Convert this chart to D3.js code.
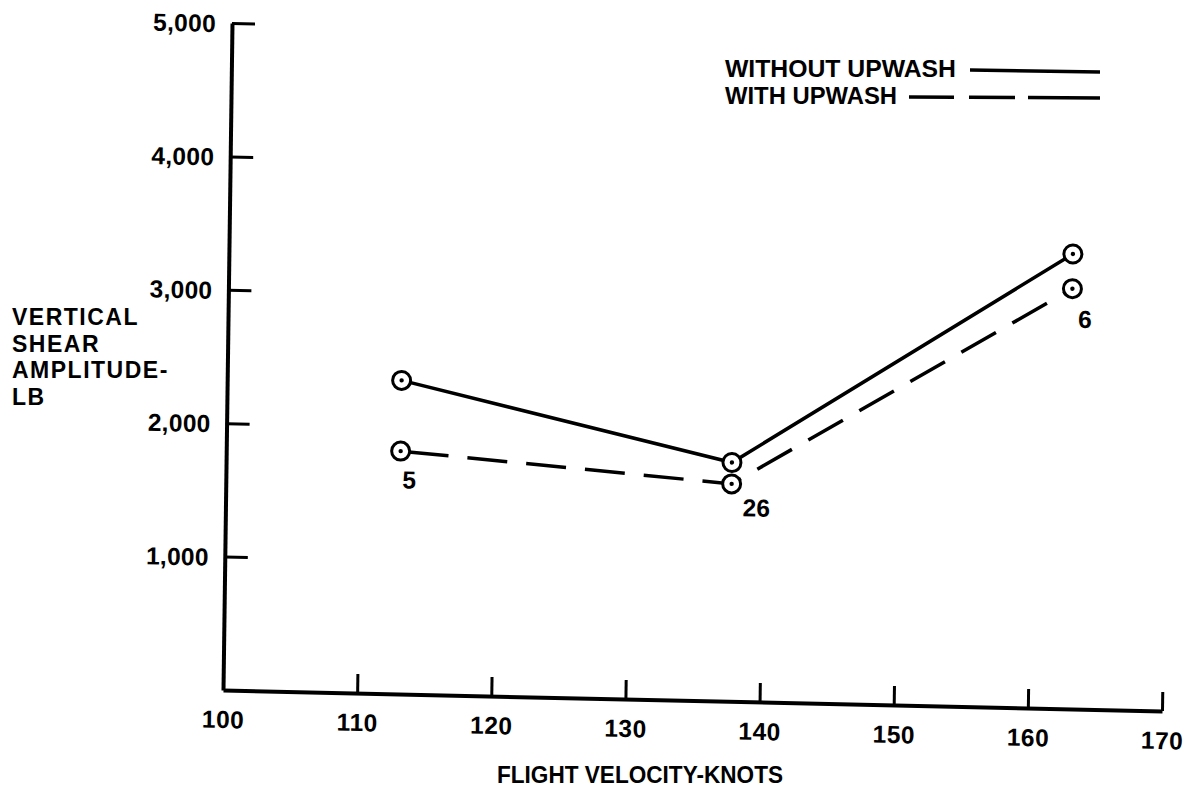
<!DOCTYPE html>
<html>
<head>
<meta charset="utf-8">
<script src="https://cdn.jsdelivr.net/npm/d3@7"></script>
<style>
  html, body { margin: 0; padding: 0; background: #fff; }
  svg { display: block; }
  text { font-family: "Liberation Sans", Arial, Helvetica, sans-serif; font-weight: bold; fill: #000; }
</style>
</head>
<body>
<svg id="chart" width="1184" height="798"></svg>
<script>
// ---- data ----
const velocities = [113, 137.7, 162.9];               // knots
const withoutUpwash = [2350, 1790, 3410];             // lb
const withUpwash = [1820, 1630, 3150];                // lb
const pointLabels = ["5", "26", "6"];                 // labels next to "with upwash" points
const xTicks = [100, 110, 120, 130, 140, 150, 160, 170];
const yTicks = [1000, 2000, 3000, 4000, 5000];
const seriesNames = ["WITHOUT UPWASH", "WITH UPWASH"];
const xTitle = "FLIGHT VELOCITY-KNOTS";
const yTitleLines = ["VERTICAL", "SHEAR", "AMPLITUDE-", "LB"];

// ---- layout ----
const svg = d3.select("#chart");
svg.append("rect").attr("width", 1184).attr("height", 798).attr("fill", "#fff");

// scanned page is slightly skewed: emulate with an affine transform
const g = svg.append("g").attr("transform", "matrix(1,0.0224,-0.0135,1,223,690)");

const x = d3.scaleLinear().domain([100, 170]).range([0, 939]);
const y = d3.scaleLinear().domain([0, 5000]).range([0, -667]);

// x axis
const xAxis = d3.axisBottom(x).tickValues(xTicks).tickSizeInner(-19).tickSizeOuter(0)
  .tickPadding(19).tickFormat(d3.format("d"));
const gx = g.append("g").call(xAxis);
gx.select(".domain").attr("stroke", "#000").attr("stroke-width", 4);
gx.selectAll(".tick line").attr("stroke", "#000").attr("stroke-width", 3)
  .filter(d => d === 100).remove();
gx.selectAll(".tick text").attr("font-size", 24.5).attr("dy", null).attr("y", 38)
  .attr("letter-spacing", 0.5);
gx.attr("font-family", null).attr("font-size", null);

// y axis
const yAxis = d3.axisLeft(y).tickValues(yTicks).tickSizeInner(-23).tickSizeOuter(0)
  .tickPadding(16).tickFormat(d3.format(","));
const gy = g.append("g").call(yAxis);
gy.select(".domain").attr("stroke", "#000").attr("stroke-width", 4);
gy.selectAll(".tick line").attr("stroke", "#000").attr("stroke-width", 3);
gy.selectAll(".tick text").attr("font-size", 24.5).attr("dy", "0.36em")
  .attr("letter-spacing", 0.3);
gy.attr("font-family", null).attr("font-size", null);

// lines
const line = d3.line().x((d, i) => x(velocities[i])).y(d => y(d));
g.append("path").datum(withoutUpwash).attr("d", line)
  .attr("fill", "none").attr("stroke", "#000").attr("stroke-width", 3.5);
g.append("path").datum(withUpwash).attr("d", line)
  .attr("fill", "none").attr("stroke", "#000").attr("stroke-width", 3.5)
  .attr("stroke-dasharray", "40,19").attr("stroke-dashoffset", -8);

// markers
function markers(values) {
  const m = g.append("g").selectAll("g").data(values).join("g")
    .attr("transform", (d, i) => `translate(${x(velocities[i])},${y(d)})`);
  m.append("circle").attr("r", 9).attr("fill", "#fff").attr("stroke", "#000").attr("stroke-width", 3);
  m.append("circle").attr("r", 2.2).attr("fill", "#000");
}
markers(withoutUpwash);
markers(withUpwash);

// point labels
const labelOffsets = [[9, 37], [25, 32], [13, 39]];
g.append("g").selectAll("text").data(pointLabels).join("text")
  .attr("x", (d, i) => x(velocities[i]) + labelOffsets[i][0])
  .attr("y", (d, i) => y(withUpwash[i]) + labelOffsets[i][1])
  .attr("text-anchor", "middle").attr("font-size", 24.5).text(d => d);

// legend
const legend = svg.append("g");
legend.append("text").attr("x", 725).attr("y", 77).attr("font-size", 24)
  .attr("textLength", 231).attr("lengthAdjust", "spacingAndGlyphs").text(seriesNames[0]);
legend.append("text").attr("x", 725).attr("y", 104).attr("font-size", 24)
  .attr("textLength", 172).attr("lengthAdjust", "spacingAndGlyphs").text(seriesNames[1]);
legend.append("line").attr("x1", 970).attr("x2", 1100).attr("y1", 70).attr("y2", 72)
  .attr("stroke", "#000").attr("stroke-width", 3.5);
legend.append("line").attr("x1", 909).attr("x2", 1100).attr("y1", 97).attr("y2", 98)
  .attr("stroke", "#000").attr("stroke-width", 3.5).attr("stroke-dasharray", "45,15,46,13,72");

// axis titles
svg.append("text").attr("x", 640).attr("y", 783).attr("text-anchor", "middle")
  .attr("font-size", 23).attr("textLength", 286).attr("lengthAdjust", "spacingAndGlyphs").text(xTitle);
svg.append("g").selectAll("text").data(yTitleLines).join("text")
  .attr("x", 12).attr("y", (d, i) => 325 + i * 26.5)
  .attr("font-size", 23).attr("letter-spacing", 1.5).text(d => d);
</script>
</body>
</html>
